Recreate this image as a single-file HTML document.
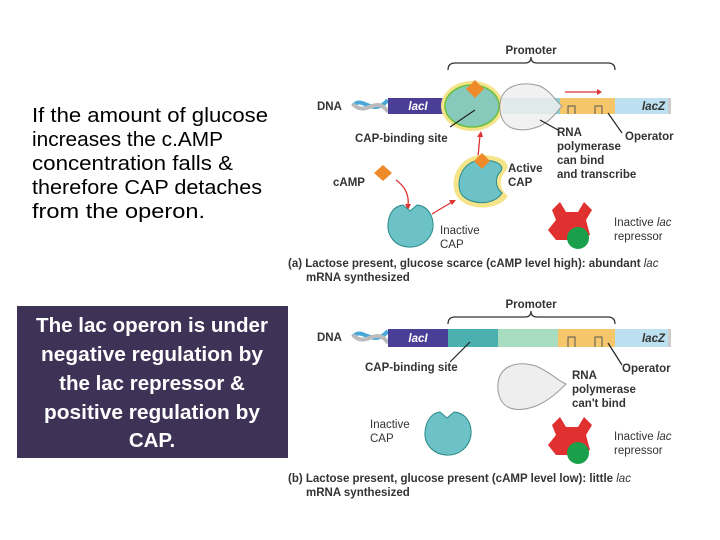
<!DOCTYPE html>
<html><head><meta charset="utf-8"><style>
body{margin:0;background:#fff}
svg{display:block}
.t{font-family:"Liberation Sans",sans-serif}
</style></head><body>
<svg width="720" height="540" viewBox="0 0 720 540" xmlns="http://www.w3.org/2000/svg">
<rect width="720" height="540" fill="#fff"/>
<g class="t" font-size="20.5" fill="#000" lengthAdjust="spacingAndGlyphs">
<text x="32" y="122" textLength="236" lengthAdjust="spacingAndGlyphs">If the amount of glucose</text>
<text x="32" y="146" textLength="191" lengthAdjust="spacingAndGlyphs">increases the c.AMP</text>
<text x="32" y="170" textLength="201" lengthAdjust="spacingAndGlyphs">concentration falls &amp;</text>
<text x="32" y="194" textLength="230" lengthAdjust="spacingAndGlyphs">therefore CAP detaches</text>
<text x="32" y="218" textLength="173" lengthAdjust="spacingAndGlyphs">from the operon.</text>
</g>
<rect x="17" y="306" width="271" height="152" fill="#3e3256"/>
<g class="t" font-size="20.5" font-weight="bold" fill="#fff" text-anchor="middle">
<text x="152" y="332" textLength="232" lengthAdjust="spacingAndGlyphs">The lac operon is under</text>
<text x="152" y="361" textLength="222" lengthAdjust="spacingAndGlyphs">negative regulation by</text>
<text x="152" y="390">the lac repressor  &amp;</text>
<text x="152" y="419" textLength="216" lengthAdjust="spacingAndGlyphs">positive regulation by</text>
<text x="152" y="447">CAP.</text>
</g>

<!-- Panel A -->
<g class="t" font-size="11.5" font-weight="bold" fill="#333">
<text x="531" y="54" text-anchor="middle">Promoter</text>
<path d="M448 70 Q448 63 455 63 L525 63 Q531 63 531 57 Q531 63 537 63 L608 63 Q615 63 615 70" fill="none" stroke="#333" stroke-width="1.3"/>
<text x="317" y="110">DNA</text>
<path d="M353 106 C362 94 372 118 388 100" stroke="#4aa8d8" stroke-width="4" fill="none"/>
<path d="M353 104 C366 118 376 94 388 112" stroke="#bbb" stroke-width="4" fill="none"/>
<rect x="388" y="98" width="60" height="16" fill="#4a3e96"/>
<text x="418" y="110" fill="#fff" font-style="italic" text-anchor="middle">lacI</text>
<rect x="448" y="98" width="112" height="16" fill="#8fcfcf"/>
<rect x="560" y="98" width="55" height="16" fill="#f5c66a"/>
<path d="M568 114 V106 H575 V114 M595 114 V106 H602 V114" fill="none" stroke="#555" stroke-width="1"/>
<rect x="615" y="98" width="53" height="16" fill="#bde0f0"/>
<rect x="668" y="98" width="3" height="16" fill="#ccc"/>
<text x="665" y="110" font-style="italic" text-anchor="end">lacZ</text>
<ellipse cx="472" cy="106" rx="31" ry="25" fill="#f6e48a"/>
<ellipse cx="472" cy="106" rx="27" ry="21" fill="#6cc2c6" fill-opacity=".8" stroke="#6cc040" stroke-width="1.5"/>
<path d="M475 80 L484 89 L475 98 L466 89Z" fill="#ee8a2a"/>
<path d="M500 110 C498 86 520 80 540 86 C552 92 558 104 562 106 C558 110 552 120 540 126 C520 134 502 130 500 110Z" fill="#eee" fill-opacity=".85" stroke="#999"/>
<path d="M565 92 H597" stroke="#d33" stroke-width="1.3"/><path d="M597 89 L602 92 L597 95Z" fill="#d33"/>
<path d="M450 127 L475 110 M540 120 L558 130 M608 113 L622 133" stroke="#222" stroke-width="1.2"/>
<text x="355" y="142">CAP-binding site</text>
<text x="557" y="136">RNA</text><text x="557" y="150">polymerase</text><text x="557" y="164">can bind</text><text x="557" y="178">and transcribe</text>
<text x="625" y="140">Operator</text>
<path d="M478 157 L480 135" stroke="#d33" stroke-width="1.3"/><path d="M477 137 L481 131 L483 137Z" fill="#d33"/>
<path d="M383 165 L392 173 L383 181 L374 173Z" fill="#ee8a2a"/>
<text x="333" y="186">cAMP</text>
<path d="M396 180 Q410 190 408 206" stroke="#d33" stroke-width="1.3" fill="none"/><path d="M405 204 L408 210 L411 204Z" fill="#d33"/>
<path d="M480 155 C505 155 512 165 505 172 C498 180 500 190 508 196 C500 210 470 212 458 198 C448 185 455 158 480 155Z" fill="#f6e48a"/>
<path d="M480 160 C500 160 505 167 500 172 C494 179 496 188 502 193 C495 205 472 206 462 195 C455 185 460 162 480 160Z" fill="#6cc2c6" stroke="#2a8a8a"/>
<path d="M482 153 L490 161 L482 169 L474 161Z" fill="#ee8a2a"/>
<text x="508" y="172">Active</text><text x="508" y="186">CAP</text>
<path d="M432 214 L452 202" stroke="#d33" stroke-width="1.3"/><path d="M449 200 L456 200 L452 205Z" fill="#d33"/>
<path d="M403 205 L410 211 L417 205 C428 206 434 216 433 228 C431 240 420 248 408 247 C395 246 387 236 388 224 C389 212 395 206 403 205Z" fill="#6cc2c6" stroke="#2a8a8a"/>
<text x="440" y="234" font-weight="normal">Inactive</text><text x="440" y="248" font-weight="normal">CAP</text>
<path d="M552 210 L560 202 L566 212 L578 212 L584 202 L592 210 L586 220 L590 235 L580 240 L556 240 L548 230 L556 220Z" fill="#e03030"/>
<circle cx="578" cy="238" r="11" fill="#1aa04a"/>
<text x="614" y="226" font-weight="normal">Inactive <tspan font-style="italic">lac</tspan></text><text x="614" y="240" font-weight="normal">repressor</text>
<text x="288" y="267">(a) Lactose present, glucose scarce (cAMP level high): abundant <tspan font-style="italic" font-weight="normal">lac</tspan></text>
<text x="306" y="281">mRNA synthesized</text>
</g>

<!-- Panel B -->
<g class="t" font-size="11.5" font-weight="bold" fill="#333">
<text x="531" y="308" text-anchor="middle">Promoter</text>
<path d="M448 324 Q448 317 455 317 L525 317 Q531 317 531 311 Q531 317 537 317 L608 317 Q615 317 615 324" fill="none" stroke="#333" stroke-width="1.3"/>
<text x="317" y="341">DNA</text>
<path d="M353 337 C362 325 372 349 388 331" stroke="#4aa8d8" stroke-width="4" fill="none"/>
<path d="M353 335 C366 349 376 325 388 343" stroke="#bbb" stroke-width="4" fill="none"/>
<rect x="388" y="329" width="60" height="18" fill="#4a3e96"/>
<text x="418" y="342" fill="#fff" font-style="italic" text-anchor="middle">lacI</text>
<rect x="448" y="329" width="50" height="18" fill="#4bb0b0"/>
<rect x="498" y="329" width="60" height="18" fill="#a8dcc0"/>
<rect x="558" y="329" width="57" height="18" fill="#f5c66a"/>
<path d="M568 347 V337 H575 V347 M595 347 V337 H602 V347" fill="none" stroke="#555" stroke-width="1"/>
<rect x="615" y="329" width="53" height="18" fill="#bde0f0"/>
<rect x="668" y="329" width="3" height="18" fill="#ccc"/>
<text x="665" y="342" font-style="italic" text-anchor="end">lacZ</text>
<path d="M450 362 L470 342 M608 343 L622 365" stroke="#222" stroke-width="1.2"/>
<text x="365" y="371">CAP-binding site</text>
<text x="622" y="372">Operator</text>
<path d="M498 390 C496 366 516 360 536 366 C550 372 560 382 566 384 C560 390 550 400 536 406 C514 414 500 408 498 390Z" fill="#eee" stroke="#999"/>
<text x="572" y="379">RNA</text><text x="572" y="393">polymerase</text><text x="572" y="407">can't bind</text>
<text x="370" y="428" font-weight="normal">Inactive</text><text x="370" y="442" font-weight="normal">CAP</text>
<path d="M440 412 L447 418 L454 412 C466 413 472 423 471 435 C469 448 458 456 446 455 C433 454 424 444 425 432 C426 420 432 413 440 412Z" fill="#6cc2c6" stroke="#2a8a8a"/>
<path d="M552 425 L560 417 L566 427 L578 427 L584 417 L592 425 L586 435 L590 450 L580 455 L556 455 L548 445 L556 435Z" fill="#e03030"/>
<circle cx="578" cy="453" r="11" fill="#1aa04a"/>
<text x="614" y="440" font-weight="normal">Inactive <tspan font-style="italic">lac</tspan></text><text x="614" y="454" font-weight="normal">repressor</text>
<text x="288" y="482">(b) Lactose present, glucose present (cAMP level low): little <tspan font-style="italic" font-weight="normal">lac</tspan></text>
<text x="306" y="496">mRNA synthesized</text>
</g>
</svg>
</body></html>
